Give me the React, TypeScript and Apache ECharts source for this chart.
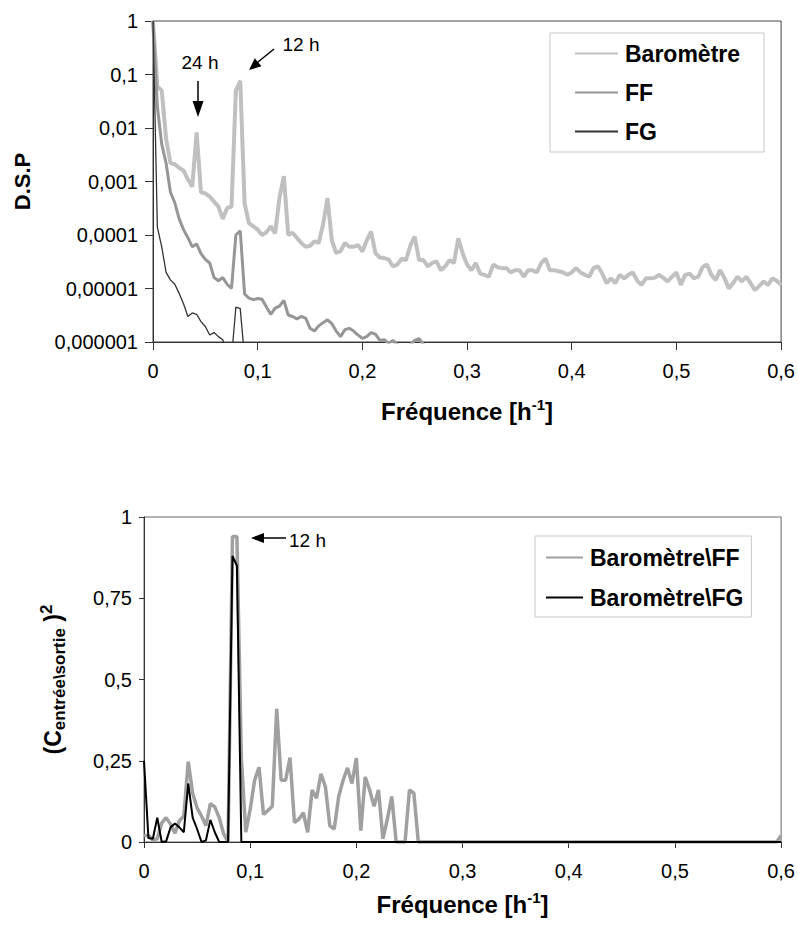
import React, { useEffect, useRef } from 'react';
import * as echarts from 'echarts';

// frequency resolution of the spectra [h-1]
const FREQ_STEP = 1 / 240;

const X_TICKS = ['0', '0,1', '0,2', '0,3', '0,4', '0,5', '0,6'];
const DSP_TICKS = ['0,000001', '0,00001', '0,0001', '0,001', '0,01', '0,1', '1'];
const COH_TICKS = ['0', '0,25', '0,5', '0,75', '1'];

const DSP_NAMES = ['Baromètre', 'FF', 'FG'];
const COH_NAMES = ['Baromètre\\FF', 'Baromètre\\FG'];

// D.S.P. (top chart)
const BAROMETRE = [
  1, 0.06, 0.05, 6.3e-3, 2.2e-3, 2.1e-3, 1.8e-3, 1.6e-3, 1.1e-3, 8.0e-4,
  8.3e-3, 6.3e-4, 6.0e-4, 5.2e-4, 4.2e-4, 3.4e-4, 2.0e-4, 3.2e-4, 3.4e-4, 5.0e-2,
  7.6e-2, 3.9e-4, 1.66e-4, 1.45e-4, 1.26e-4, 1.0e-4, 1.12e-4, 1.45e-4, 1.07e-4, 5.0e-4,
  1.26e-3, 1.0e-4, 1.1e-4, 8.9e-5, 7.1e-5, 6.0e-5, 6.3e-5, 7.6e-5, 7.1e-5, 1.6e-4,
  4.9e-4, 7.9e-5, 4.6e-5, 5.0e-5, 7.1e-5, 6.0e-5, 6.0e-5, 6.5e-5, 4.9e-5, 7.9e-5,
  1.15e-4, 4.6e-5, 3.8e-5, 3.7e-5, 3.5e-5, 2.6e-5, 2.8e-5, 3.6e-5, 3.4e-5, 6.3e-5,
  9.3e-5, 3.4e-5, 3.4e-5, 2.6e-5, 3.0e-5, 3.2e-5, 2.2e-5, 2.6e-5, 3.4e-5, 3.0e-5,
  8.7e-5, 4.5e-5, 2.8e-5, 2.2e-5, 3.0e-5, 1.9e-5, 1.8e-5, 1.66e-5, 2.8e-5, 2.5e-5,
  2.4e-5, 2.4e-5, 2.0e-5, 2.2e-5, 2.2e-5, 1.66e-5, 2.2e-5, 2.2e-5, 2.0e-5, 3.0e-5,
  3.6e-5, 2.2e-5, 2.2e-5, 2.1e-5, 2.0e-5, 1.8e-5, 2.0e-5, 2.4e-5, 2.0e-5, 1.8e-5,
  1.66e-5, 2.4e-5, 2.6e-5, 1.9e-5, 1.26e-5, 1.55e-5, 1.26e-5, 1.8e-5, 1.55e-5, 1.8e-5,
  2.0e-5, 1.4e-5, 1.17e-5, 1.55e-5, 1.55e-5, 1.58e-5, 1.8e-5, 1.58e-5, 1.35e-5, 1.66e-5,
  2.0e-5, 1.17e-5, 1.8e-5, 1.9e-5, 1.55e-5, 1.66e-5, 2.5e-5, 2.8e-5, 1.8e-5, 1.45e-5,
  2.2e-5, 1.58e-5, 1.0e-5, 1.26e-5, 1.66e-5, 1.35e-5, 1.66e-5, 1.26e-5, 9.3e-6, 1.12e-5,
  1.35e-5, 1.17e-5, 1.55e-5, 1.4e-5, 1.17e-5,
];

const FF = [
  1, 2.5e-2, 5.0e-3, 2.2e-3, 6.3e-4, 4.0e-4, 2.0e-4, 1.26e-4, 8.9e-5, 6.0e-5,
  6.8e-5, 4.5e-5, 3.5e-5, 3.0e-5, 1.6e-5, 1.4e-5, 1.6e-5, 1.2e-5, 1.0e-5, 1.0e-4,
  1.2e-4, 7.9e-6, 6.6e-6, 6.2e-6, 6.5e-6, 6.3e-6, 4.5e-6, 3.3e-6, 4.3e-6, 4.7e-6,
  6.0e-6, 3.2e-6, 3.0e-6, 2.7e-6, 3.0e-6, 2.8e-6, 1.8e-6, 1.6e-6, 2.0e-6, 2.3e-6,
  2.6e-6, 2.2e-6, 1.6e-6, 1.26e-6, 1.7e-6, 1.8e-6, 1.6e-6, 1.35e-6, 1.17e-6, 1.26e-6,
  1.5e-6, 1.4e-6, 1.07e-6, 1.1e-6, 9.5e-7, 1.07e-6, 9.0e-7, 8.0e-7, 8.0e-7, 9.0e-7,
  1.07e-6, 1.15e-6, 9.0e-7, 7.0e-7,
];

const FG = [
  1, 1.4e-4, 6.0e-5, 2.0e-5, 1.45e-5, 1.2e-5, 8.1e-6, 5.2e-6, 3.0e-6, 3.5e-6,
  3.3e-6, 2.4e-6, 1.95e-6, 1.35e-6, 1.5e-6, 1.26e-6, 1.1e-6, 6.3e-7, 5.0e-7, 4.5e-6,
  4.2e-6, 5.0e-7, 3.2e-7,
];

// squared coherence (bottom chart)
const COH_FF = [
  0.02, 0.02, 0.006, 0.01, 0.058, 0.075, 0.055, 0.027, 0.065, 0.08,
  0.247, 0.15, 0.105, 0.08, 0.05, 0.118, 0.108, 0.075, 0.025, 0,
  0.94, 0.94, 0.26, 0.03, 0.1, 0.19, 0.23, 0.085, 0.097, 0.11,
  0.41, 0.19, 0.19, 0.26, 0.06, 0.07, 0.09, 0.03, 0.16, 0.135,
  0.21, 0.17, 0.05, 0.04, 0.14, 0.19, 0.228, 0.18, 0.258, 0.035,
  0.2, 0.16, 0.11, 0.16, 0.01, 0.07, 0.14, 0, 0, 0,
  0.16, 0.15, 0,
  0, 0, 0, 0, 0, 0, 0, 0, 0, 0,
  0, 0, 0, 0, 0, 0, 0, 0, 0, 0,
  0, 0, 0, 0, 0, 0, 0, 0, 0, 0,
  0, 0, 0, 0, 0, 0, 0, 0, 0, 0,
  0, 0, 0, 0, 0, 0, 0, 0, 0, 0,
  0, 0, 0, 0, 0, 0, 0, 0, 0, 0,
  0, 0, 0, 0, 0, 0, 0, 0, 0, 0,
  0, 0, 0, 0, 0, 0, 0, 0, 0, 0,
  0,
  0.02,
];

const COH_FG = [
  0.25, 0.012, 0.01, 0.075, 0, 0.002, 0.045, 0.057, 0.045, 0.03,
  0.18, 0.075, 0.04, 0, 0.005, 0.068, 0.03, 0, 0, 0,
  0.88, 0.85,
  0, 0, 0, 0, 0, 0, 0, 0, 0, 0,
  0, 0, 0, 0, 0, 0, 0, 0, 0, 0,
  0, 0, 0, 0, 0, 0, 0, 0, 0, 0,
  0, 0, 0, 0, 0, 0, 0, 0, 0, 0,
  0, 0, 0, 0, 0, 0, 0, 0, 0, 0,
  0, 0, 0, 0, 0, 0, 0, 0, 0, 0,
  0, 0, 0, 0, 0, 0, 0, 0, 0, 0,
  0, 0, 0, 0, 0, 0, 0, 0, 0, 0,
  0, 0, 0, 0, 0, 0, 0, 0, 0, 0,
  0, 0, 0, 0, 0, 0, 0, 0, 0, 0,
  0, 0, 0, 0, 0, 0, 0, 0, 0, 0,
  0, 0, 0, 0, 0, 0, 0, 0, 0, 0,
  0, 0, 0,
];

const FONT = 'Liberation Sans, Arial, Helvetica, sans-serif';

const toPairs = (arr: number[]) => arr.map((v, i) => [i * FREQ_STEP, v]);

const xLabel = (v: number) => X_TICKS[Math.round(v * 10)] ?? '';

export default function App() {
  const ref = useRef<HTMLDivElement>(null);

  useEffect(() => {
    if (!ref.current) return;
    const chart = echarts.init(ref.current, undefined, { renderer: 'svg' });

    const axisLine = { show: true, lineStyle: { color: '#333', width: 1 } };
    const xName = '{a|Fréquence [h}{s|-1}{a|]}';
    const xNameStyle = {
      color: '#000',
      rich: {
        a: { fontSize: 24, fontWeight: 'bold', fontFamily: FONT, color: '#000', lineHeight: 28 },
        s: { fontSize: 15, fontWeight: 'bold', fontFamily: FONT, color: '#000', lineHeight: 15, verticalAlign: 'top' },
      },
    };
    const legendBase = {
      orient: 'vertical',
      backgroundColor: '#fff', borderColor: '#c8c8c8', borderWidth: 1,
      selectedMode: false,
      itemStyle: { opacity: 0, borderWidth: 0 },
      textStyle: { fontSize: 23, fontWeight: 'bold', color: '#000', fontFamily: FONT, padding: [0, 0, 0, 2] },
    };

    const option: any = {
      animation: false,
      backgroundColor: '#fff',
      textStyle: { fontFamily: FONT },
      grid: [
        { left: 153, top: 21, width: 629, height: 321, show: true, borderColor: '#444', borderWidth: 1, backgroundColor: 'transparent' },
        { left: 144, top: 517, width: 639, height: 325, show: true, borderColor: '#666', borderWidth: 1, backgroundColor: 'transparent' },
      ],
      xAxis: [
        {
          gridIndex: 0, type: 'value', min: 0, max: 0.6, interval: 0.1,
          axisLine, axisTick: { show: true, length: 8, lineStyle: { color: '#333' } },
          splitLine: { show: false },
          axisLabel: { fontSize: 20, color: '#000', margin: 19, fontFamily: FONT, formatter: xLabel },
          name: xName, nameLocation: 'middle', nameGap: 55, nameTextStyle: xNameStyle,
        },
        {
          gridIndex: 1, type: 'value', min: 0, max: 0.6, interval: 0.1,
          axisLine, axisTick: { show: true, length: 6, lineStyle: { color: '#333' } },
          splitLine: { show: false },
          axisLabel: { fontSize: 20, color: '#000', margin: 19, fontFamily: FONT, formatter: xLabel },
          name: xName, nameLocation: 'middle', nameGap: 48, nameTextStyle: xNameStyle,
        },
      ],
      yAxis: [
        {
          gridIndex: 0, type: 'log', logBase: 10, min: 1e-6, max: 1,
          axisLine, axisTick: { show: true, length: 8, lineStyle: { color: '#333' } },
          splitLine: { show: false }, minorTick: { show: false },
          axisLabel: {
            fontSize: 20, color: '#000', margin: 15, fontFamily: FONT,
            formatter: (v: number) => DSP_TICKS[Math.round(Math.log10(v)) + 6] ?? '',
          },
          name: 'D.S.P', nameLocation: 'middle', nameRotate: 90, nameGap: 120,
          nameTextStyle: { fontSize: 22, fontWeight: 'bold', color: '#000', fontFamily: FONT },
        },
        {
          gridIndex: 1, type: 'value', min: 0, max: 1, interval: 0.25,
          axisLine, axisTick: { show: true, length: 5, lineStyle: { color: '#333' } },
          splitLine: { show: false },
          axisLabel: {
            fontSize: 20, color: '#000', margin: 12, fontFamily: FONT,
            formatter: (v: number) => COH_TICKS[Math.round(v * 4)] ?? '',
          },
          name: '{p|(C}{sub|entrée\\sortie}{p| )}{sup|2}',
          nameLocation: 'middle', nameRotate: 90, nameGap: 76,
          nameTextStyle: {
            color: '#000',
            rich: {
              p: { fontSize: 23, fontWeight: 'bold', fontFamily: FONT, color: '#000', lineHeight: 30, verticalAlign: 'middle' },
              sub: { fontSize: 17, fontWeight: 'bold', fontFamily: FONT, color: '#000', lineHeight: 16, verticalAlign: 'bottom' },
              sup: { fontSize: 17, fontWeight: 'bold', fontFamily: FONT, color: '#000', lineHeight: 16, verticalAlign: 'top' },
            },
          },
        },
      ],
      legend: [
        {
          ...legendBase,
          data: DSP_NAMES, left: 550, top: 33,
          padding: [9, 24, 9, 24], itemGap: 16, itemWidth: 43, itemHeight: 14,
        },
        {
          ...legendBase,
          data: COH_NAMES, left: 535, top: 536,
          padding: [10, 8, 8, 10], itemGap: 17, itemWidth: 37, itemHeight: 14,
        },
      ],
      series: [
        {
          name: DSP_NAMES[0], type: 'line', xAxisIndex: 0, yAxisIndex: 0, symbol: 'none', clip: true,
          data: toPairs(BAROMETRE), lineStyle: { color: '#c0c0c0', width: 4 }, itemStyle: { color: '#c0c0c0' },
        },
        {
          name: DSP_NAMES[1], type: 'line', xAxisIndex: 0, yAxisIndex: 0, symbol: 'none', clip: true,
          data: toPairs(FF), lineStyle: { color: '#969696', width: 3 }, itemStyle: { color: '#969696' },
        },
        {
          name: DSP_NAMES[2], type: 'line', xAxisIndex: 0, yAxisIndex: 0, symbol: 'none', clip: true,
          data: toPairs(FG), lineStyle: { color: '#333', width: 1.3 }, itemStyle: { color: '#333' },
        },
        {
          name: COH_NAMES[0], type: 'line', xAxisIndex: 1, yAxisIndex: 1, symbol: 'none', clip: true,
          data: toPairs(COH_FF), lineStyle: { color: '#a0a0a0', width: 3.5 }, itemStyle: { color: '#a0a0a0' },
        },
        {
          name: COH_NAMES[1], type: 'line', xAxisIndex: 1, yAxisIndex: 1, symbol: 'none', clip: true,
          data: toPairs(COH_FG), lineStyle: { color: '#000', width: 2 }, itemStyle: { color: '#000' },
        },
      ],
      graphic: [
        // 24 h annotation
        { type: 'text', x: 200, y: 62, z: 100, style: { text: '24 h', fontSize: 19, fontFamily: FONT, fill: '#000', align: 'center', verticalAlign: 'middle' } },
        { type: 'line', z: 100, shape: { x1: 198, y1: 81, x2: 198, y2: 104 }, style: { stroke: '#000', lineWidth: 1.5 } },
        { type: 'polygon', z: 100, shape: { points: [[192.5, 101], [203.5, 101], [198, 117]] }, style: { fill: '#000' } },
        // 12 h annotation (top)
        { type: 'text', x: 301, y: 44, z: 100, style: { text: '12 h', fontSize: 19, fontFamily: FONT, fill: '#000', align: 'center', verticalAlign: 'middle' } },
        { type: 'line', z: 100, shape: { x1: 274, y1: 49, x2: 258, y2: 62 }, style: { stroke: '#000', lineWidth: 1.5 } },
        { type: 'polygon', z: 100, shape: { points: [[249, 70], [261.5, 66.3], [254.8, 58.3]] }, style: { fill: '#000' } },
        // 12 h annotation (bottom)
        { type: 'text', x: 289, y: 540, z: 100, style: { text: '12 h', fontSize: 19, fontFamily: FONT, fill: '#000', align: 'left', verticalAlign: 'middle' } },
        { type: 'line', z: 100, shape: { x1: 262, y1: 538, x2: 286, y2: 538 }, style: { stroke: '#000', lineWidth: 1.5 } },
        { type: 'polygon', z: 100, shape: { points: [[251, 538], [264, 533], [264, 543]] }, style: { fill: '#000' } },
      ],
    };

    chart.setOption(option);
    return () => chart.dispose();
  }, []);

  return (
    <div
      ref={ref}
      style={{ position: 'fixed', left: 0, top: 0, width: 798, height: 927, background: '#fff' }}
    />
  );
}
